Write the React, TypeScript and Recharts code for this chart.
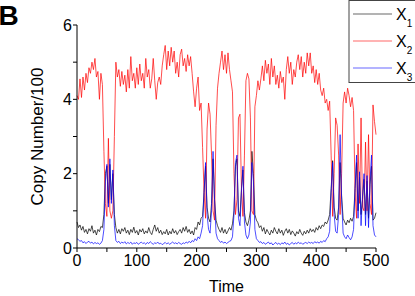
import React from 'react';
import { LineChart, Line, XAxis, YAxis, Label } from 'recharts';

// Sampling step of the simulation output (time units)
const STEP = 2.5;

const x1: number[] = [
  0.7, 0.55, 0.62, 0.48, 0.58, 0.42, 0.5, 0.38, 0.52, 0.45,
  0.6, 0.4, 0.48, 0.35, 0.5, 0.44, 0.58, 0.55, 0.9, 2.0,
  2.2, 1.2, 2.25, 1.3, 2.0, 0.9, 0.55, 0.4, 0.5, 0.38,
  0.52, 0.45, 0.55, 0.4, 0.48, 0.36, 0.5, 0.42, 0.56, 0.4,
  0.47, 0.35, 0.5, 0.43, 0.52, 0.38, 0.46, 0.4, 0.55, 0.42,
  0.36, 0.5, 0.62, 0.45, 0.55, 0.4, 0.48, 0.36, 0.44, 0.38,
  0.5, 0.35, 0.45, 0.38, 0.52, 0.4, 0.47, 0.36, 0.44, 0.5,
  0.4, 0.55, 0.45, 0.58, 0.42, 0.5, 0.38, 0.46, 0.35, 0.55,
  0.5, 0.7, 0.62, 0.8, 0.85, 1.5, 2.2, 1.1, 0.8, 0.7,
  1.2, 2.4, 1.3, 0.75, 0.6, 0.5, 0.42, 0.55, 0.4, 0.5,
  0.38, 0.46, 0.55, 0.48, 0.65, 1.0, 2.2, 2.4, 1.0, 0.85,
  1.6, 2.1, 0.95, 0.7, 0.6, 0.75, 1.0, 2.6, 2.0, 0.9,
  0.75, 0.68, 0.55, 0.6, 0.45, 0.55, 0.38, 0.5, 0.42, 0.35,
  0.48, 0.4, 0.55, 0.45, 0.38, 0.52, 0.4, 0.48, 0.34, 0.45,
  0.52, 0.4, 0.5, 0.36, 0.46, 0.4, 0.32, 0.44, 0.38, 0.5,
  0.4, 0.34, 0.45, 0.38, 0.48, 0.4, 0.52, 0.44, 0.5, 0.42,
  0.55, 0.48, 0.6, 0.52, 0.62, 0.58, 0.7, 0.65, 0.75, 0.9,
  1.6, 2.35, 1.1, 0.8, 0.75, 1.1, 2.3, 1.4, 0.8, 0.7,
  0.62, 0.75, 0.68, 0.8, 0.72, 0.85, 1.6, 2.3, 1.0, 1.9,
  0.9, 1.3, 1.85, 0.9, 1.8, 0.8, 1.7, 2.2, 0.75, 0.8,
  0.95,
];

const x2: number[] = [
  4.1, 4.0, 4.55, 4.05, 4.6, 4.25, 4.7, 4.45, 4.85, 4.7,
  5.0, 4.8, 5.1, 4.6, 4.75, 4.0, 4.7, 4.4, 2.6, 1.2,
  0.85, 2.95, 1.0, 0.8, 1.0, 3.0, 5.0, 4.6, 4.8, 4.35,
  4.75, 4.4, 4.65, 4.2, 4.8, 4.3, 5.15, 4.5, 4.7, 4.3,
  4.85, 4.4, 4.95, 4.5, 4.7, 4.3, 5.1, 4.6, 4.8, 4.3,
  4.55, 5.1, 4.5, 4.0, 4.45, 4.6, 4.4, 4.9, 5.2, 5.45,
  4.8, 5.3, 4.9, 5.4, 5.0, 5.3, 4.7, 5.0, 4.6, 5.2,
  5.35, 4.9, 5.1, 4.75, 5.2, 4.9, 5.15, 4.7, 4.2, 3.8,
  4.3, 4.6, 3.7, 3.9, 2.7, 1.5, 0.8, 3.2, 3.9, 3.6,
  2.5, 1.0, 0.75, 3.3, 4.3, 4.7, 5.0, 5.3, 4.8, 5.2,
  4.7, 5.25, 4.8, 4.5, 4.2, 2.0, 0.9, 1.3, 3.5, 3.6,
  1.6, 0.85, 2.5, 4.5, 4.7, 4.55, 3.5, 1.0, 0.9, 3.8,
  4.1, 4.5, 4.25, 4.55, 4.9, 4.5, 5.05, 4.7, 4.95, 4.4,
  5.1, 4.6, 4.9, 4.4, 4.65, 4.3, 4.75, 4.45, 4.6, 4.0,
  4.8, 5.15, 4.7, 5.0, 4.4, 4.8, 4.6, 5.0, 5.2, 4.8,
  5.15, 4.6, 5.0, 4.7, 5.25, 4.9, 5.25, 4.7, 4.9, 4.45,
  4.8, 4.4, 4.7, 4.25, 4.1, 4.3, 3.9, 4.0, 3.7, 3.95,
  2.5, 0.85, 2.0, 3.5, 3.3, 2.5, 0.9, 2.0, 3.9, 4.2,
  3.9, 4.3, 4.1, 3.8, 4.05, 3.7, 1.5, 0.8, 2.8, 1.2,
  3.5, 1.1, 1.0, 2.85, 1.0, 3.05, 1.2, 0.9, 3.85, 3.4,
  3.05,
];

const x3: number[] = [
  0.25, 0.22, 0.18, 0.2, 0.14, 0.17, 0.12, 0.16, 0.18, 0.13,
  0.16, 0.11, 0.15, 0.12, 0.14, 0.1, 0.13, 0.2, 0.5, 1.8,
  2.25, 1.1, 2.4, 1.2, 2.1, 0.6, 0.2, 0.15, 0.18, 0.12,
  0.16, 0.13, 0.17, 0.11, 0.15, 0.12, 0.16, 0.1, 0.14, 0.12,
  0.15, 0.1, 0.13, 0.16, 0.12, 0.14, 0.1, 0.15, 0.12, 0.17,
  0.13, 0.1, 0.14, 0.12, 0.16, 0.11, 0.13, 0.09, 0.12, 0.15,
  0.11, 0.14, 0.1, 0.13, 0.16, 0.12, 0.14, 0.11, 0.15, 0.12,
  0.1, 0.14, 0.12, 0.16, 0.13, 0.18, 0.14, 0.2, 0.17, 0.25,
  0.2, 0.3, 0.25, 0.4, 0.6, 1.5, 2.3, 0.9, 0.5, 0.4,
  1.0, 2.6, 1.3, 0.4, 0.25, 0.2, 0.15, 0.18, 0.13, 0.16,
  0.12, 0.15, 0.18, 0.2, 0.3, 0.9, 2.3, 2.5, 0.8, 0.6,
  1.5, 2.2, 0.7, 0.35, 0.25, 0.35, 0.7, 2.3, 1.8, 0.5,
  0.25, 0.2, 0.15, 0.17, 0.12, 0.15, 0.1, 0.13, 0.16, 0.11,
  0.14, 0.08, 0.12, 0.15, 0.1, 0.13, 0.09, 0.14, 0.11, 0.16,
  0.1, 0.13, 0.08, 0.12, 0.15, 0.1, 0.14, 0.11, 0.16, 0.12,
  0.14, 0.1, 0.13, 0.15, 0.12, 0.16, 0.13, 0.15, 0.12, 0.17,
  0.14, 0.16, 0.13, 0.18, 0.15, 0.2, 0.17, 0.25, 0.3, 0.45,
  1.5, 2.3, 0.9, 0.45, 0.4, 0.9, 3.05, 1.3, 0.4, 0.3,
  0.25, 0.35, 0.28, 0.22, 0.3, 0.5, 1.6, 2.5, 0.8, 2.05,
  0.6, 1.4, 2.0, 0.6, 1.95, 0.55, 1.8, 2.5, 0.6, 0.35,
  0.3,
];

const xTicks = [0, 50, 100, 150, 200, 250, 300, 350, 400, 450, 500];
const yTicks = [0, 1, 2, 3, 4, 5, 6];

const seriesNames = ['X1', 'X2', 'X3'];
const seriesColors = ['#000000', '#ff0000', '#0000ff'];
const seriesSubs = ['1', '2', '3'];

const data = x1.map((v, i) => ({ t: i * STEP, X1: v, X2: x2[i], X3: x3[i] }));

const FONT = "Arial, 'Liberation Sans', sans-serif";

const YLabel = (props: any) => {
  const vb = props.viewBox || { x: 0, y: 25, width: 77, height: 223 };
  const cx = vb.x + 43;
  const cy = vb.y + vb.height / 2;
  return (
    <text x={cx} y={cy} transform={`rotate(-90 ${cx} ${cy})`} textAnchor="middle" fontSize={17} fontFamily={FONT} fill="#000">
      Copy Number/100
    </text>
  );
};

const XLabel = (props: any) => {
  const vb = props.viewBox || { x: 77, y: 248, width: 299, height: 48 };
  return (
    <text x={vb.x + vb.width / 2} y={vb.y + 44} textAnchor="middle" fontSize={16} fontFamily={FONT} fill="#000">
      Time
    </text>
  );
};

export default function App() {
  return (
    <div style={{ position: 'absolute', left: 0, top: 0, width: 415, height: 296, background: '#fff' }}>
      <LineChart width={415} height={296} data={data} margin={{ top: 25, right: 39, bottom: 0, left: 0 }}>
        <XAxis
          dataKey="t"
          type="number"
          domain={[0, 500]}
          ticks={xTicks}
          tickFormatter={(v: number) => (v % 100 === 0 ? String(v) : '')}
          height={48}
          tickSize={4}
          tickMargin={3}
          stroke="#000"
          tick={{ fill: '#000', fontSize: 16, fontFamily: FONT }}
          axisLine={{ stroke: '#000', strokeWidth: 1 }}
          tickLine={{ stroke: '#000' }}
        >
          <Label content={XLabel} />
        </XAxis>
        <YAxis
          type="number"
          domain={[0, 6]}
          ticks={yTicks}
          tickFormatter={(v: number) => (v % 2 === 0 ? String(v) : '')}
          width={77}
          tickSize={4}
          tickMargin={1}
          stroke="#000"
          tick={{ fill: '#000', fontSize: 16, fontFamily: FONT }}
          axisLine={{ stroke: '#000', strokeWidth: 1 }}
          tickLine={{ stroke: '#000' }}
        >
          <Label content={YLabel} />
        </YAxis>
        {seriesNames.map((name, i) => (
          <Line
            key={name}
            type="linear"
            dataKey={name}
            stroke={seriesColors[i]}
            strokeWidth={0.7}
            dot={false}
            isAnimationActive={false}
          />
        ))}
      </LineChart>
      <svg width={415} height={296} style={{ position: 'absolute', left: 0, top: 0, pointerEvents: 'none' }}>
        <text x={-1.5} y={25} fontSize={28} fontWeight="bold" fontFamily={FONT} fill="#000">B</text>
        <rect x={349} y={0.5} width={80} height={82} fill="#fff" stroke="#444" strokeWidth={1} />
        {seriesNames.map((name, i) => {
          const y = 14 + i * 27;
          return (
            <g key={name}>
              <line x1={353} x2={392} y1={y} y2={y} stroke={seriesColors[i]} strokeWidth={0.6} />
              <text x={396} y={y + 5.5} fontSize={16} fontFamily={FONT} fill="#000">
                X
                <tspan fontSize={10} dy={7}>{seriesSubs[i]}</tspan>
              </text>
            </g>
          );
        })}
      </svg>
    </div>
  );
}
